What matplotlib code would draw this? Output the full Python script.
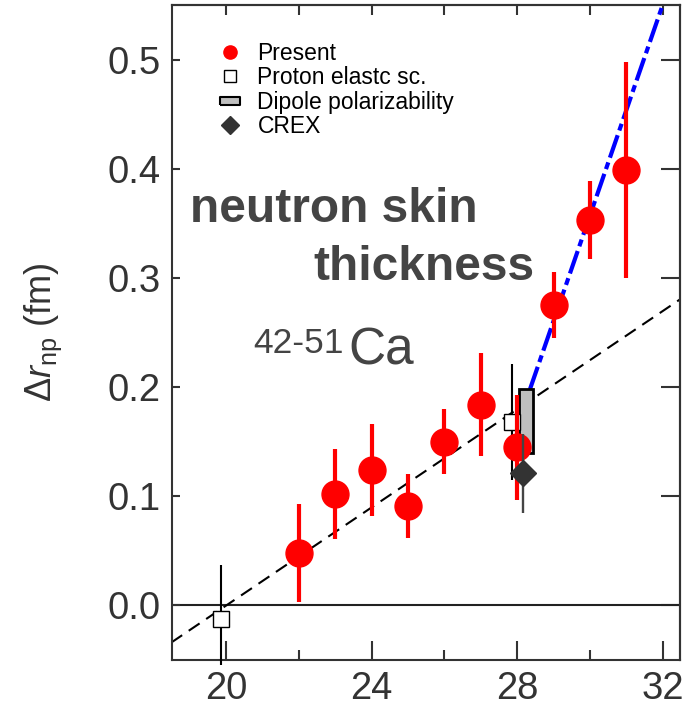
import numpy as np
import matplotlib
matplotlib.use("Agg")
import matplotlib.pyplot as plt
from matplotlib.lines import Line2D

plt.rcParams['font.family'] = ['Liberation Sans', 'DejaVu Sans']
plt.rcParams['mathtext.fontset'] = 'custom'
plt.rcParams['mathtext.rm'] = 'Liberation Sans'
plt.rcParams['mathtext.it'] = 'Liberation Sans:italic'

# ── data ──────────────────────────────────────────────────────────────────────
N_present   = [22, 23, 24, 25, 26, 27, 28, 29, 30, 31]
dr_present  = [0.048, 0.102, 0.124, 0.091, 0.150, 0.184, 0.145, 0.275, 0.353, 0.399]
err_present = [0.045, 0.041, 0.042, 0.029, 0.030, 0.047, 0.048, 0.030, 0.036, 0.099]

N_proton      = [19.87, 27.85]
dr_proton     = [-0.012, 0.168]
err_proton_lo = [0.043, 0.053]
err_proton_hi = [0.049, 0.053]

N_dipole  = [28.24]
dr_dip_lo = [0.140]
dr_dip_hi = [0.198]

N_crex   = [28.16]
dr_crex  = [0.121]
err_crex = [0.036]

trend_x = [18.5, 32.5]
trend_y = [-0.034, 0.281]
kink_x  = [28.35, 32.2]
kink_y  = [0.198, 0.570]

x_major = [20, 24, 28, 32]
x_minor = [22, 26, 30]
y_major = [0.0, 0.1, 0.2, 0.3, 0.4, 0.5]

# ── plot ──────────────────────────────────────────────────────────────────────
fig = plt.figure(figsize=(6.89, 7.08), dpi=100)
ax = fig.add_axes([172 / 689, 48 / 708, 508 / 689, 655 / 708])

ax.axhline(0, color="#222222", lw=1.5, zorder=1)
ax.plot(trend_x, trend_y, color="black", lw=1.5, ls=(0, (6.3, 3.8)), zorder=2)
ax.plot(kink_x, kink_y, color="#0000ff", lw=3, ls=(0, (5.7, 1.2, 1.7, 1.2)), zorder=2)

# proton elastic scattering
eb = ax.errorbar(N_proton, dr_proton, yerr=[err_proton_lo, err_proton_hi],
                 fmt="s", ms=12, mfc="white", mec="black", mew=1.0,
                 ecolor="black", elinewidth=1.5, capsize=0, zorder=3)
for bc in eb[2]:
    bc.set_clip_on(False)

# dipole polarizability
dip_h = [hi - lo for hi, lo in zip(dr_dip_hi, dr_dip_lo)]
ax.bar(N_dipole, dip_h, bottom=dr_dip_lo, width=0.38, color="#bfbfbf",
       edgecolor="black", linewidth=2, zorder=3)

# present data
ax.errorbar(N_present, dr_present, yerr=err_present, fmt="o", ms=19.4,
            color="#ff0000", ecolor="#ff0000", elinewidth=3, capsize=0, zorder=4)

# CREX
ax.errorbar(N_crex, dr_crex, yerr=err_crex, fmt="D", ms=13, color="#333333",
            ecolor="#444444", elinewidth=1.7, capsize=0, zorder=5)

# texts
txt_c = "#444444"
ax.text(0.0354, 0.6687, "neutron skin", transform=ax.transAxes, fontsize=34.5,
        fontweight="bold", color=txt_c, va="baseline", ha="left")
ax.text(0.2776, 0.5802, "thickness", transform=ax.transAxes, fontsize=34.5,
        fontweight="bold", color=txt_c, va="baseline", ha="left")
ax.text(0.1594, 0.4687, "42-51", transform=ax.transAxes, fontsize=25.5,
        color=txt_c, va="baseline", ha="left")
ax.text(0.3465, 0.4504, "Ca", transform=ax.transAxes, fontsize=37,
        color=txt_c, va="baseline", ha="left")

# legend
rect_marker = [(-1, -0.37), (1, -0.37), (1, 0.37), (-1, 0.37), (-1, -0.37)]
handles = [
    Line2D([], [], ls="none", marker="o", ms=9.5, color="#ff0000", label="Present"),
    Line2D([], [], ls="none", marker="s", ms=8, mfc="white", mec="black", mew=1.0,
           label="Proton elastc sc."),
    Line2D([], [], ls="none", marker=rect_marker, ms=14, mfc="#bfbfbf", mec="black",
           mew=1.5, label="Dipole polarizability"),
    Line2D([], [], ls="none", marker="D", ms=9.5, color="#333333", label="CREX"),
]
ax.legend(handles=handles, loc="upper left", bbox_to_anchor=(0.0915, 0.943),
          frameon=False, fontsize=16.5, handlelength=1.0, handletextpad=0.7,
          labelspacing=0.05, borderpad=0, borderaxespad=0)

# axes
ax.set_xlim(18.52, 32.47)
ax.set_ylim(-0.05, 0.55)
ax.set_xticks(x_major)
ax.set_xticks(x_minor, minor=True)
ax.set_yticks(y_major)
ax.set_yticklabels([f"{v:.1f}" for v in y_major])
ax.tick_params(axis="x", which="major", direction="in", length=14, width=1.5,
               labelsize=27.5, colors="#333333", pad=8)
ax.tick_params(axis="x", which="minor", direction="in", length=7, width=1.5,
               colors="#333333")
ax.tick_params(axis="y", which="major", direction="in", length=6, width=1.5,
               labelsize=27.5, colors="#333333", pad=8)
for sp in ax.spines.values():
    sp.set_color("#333333")
    sp.set_linewidth(1.5)

sec_x = ax.secondary_xaxis("top")
sec_x.set_xticks(x_major)
sec_x.set_xticks(x_minor, minor=True)
sec_x.tick_params(axis="x", which="both", direction="in", length=7, width=1.5,
                  colors="#333333", labeltop=False)
sec_x.spines["top"].set_color("#333333")
sec_x.spines["top"].set_linewidth(1.5)

sec_y = ax.secondary_yaxis("right")
sec_y.set_yticks(y_major)
sec_y.tick_params(axis="y", which="major", direction="in", length=14, width=1.5,
                  colors="#333333", labelright=False)
sec_y.spines["right"].set_color("#333333")
sec_y.spines["right"].set_linewidth(1.5)

ax.set_ylabel(r"$\Delta r_{\mathrm{np}}$ (fm)", fontsize=26, color="#333333")
ax.yaxis.set_label_coords(-0.213, 0.5)

fig.savefig("out.png", dpi=100)
